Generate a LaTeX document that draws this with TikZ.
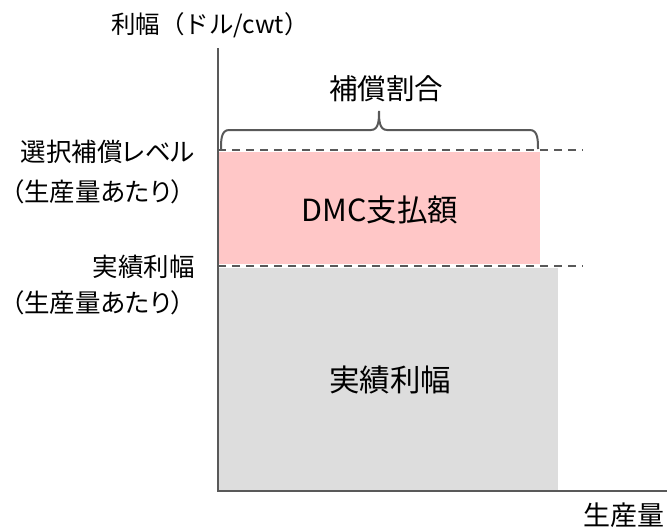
\documentclass[tikz,border=0pt]{standalone}
\usepackage{fontspec}
\setmainfont{Noto Sans CJK JP}[RawFeature=+palt]
\newfontfamily\widefont{Noto Sans CJK JP}
\definecolor{payfill}{HTML}{FFC7C7}
\definecolor{margfill}{HTML}{DDDDDD}
\definecolor{axisgray}{HTML}{595959}
\tikzset{
  axisline/.style={draw=axisgray,line width=2pt},
  levelline/.style={draw=axisgray,line width=2pt,dash pattern=on 8pt off 6pt},
  bracket/.style={draw=axisgray,line width=2pt},
  sidelabel/.style={anchor=east,inner sep=0pt,font=\fontsize{25.5}{30}\selectfont},
  biglabel/.style={inner sep=0pt,font=\fontsize{30.5}{34}\selectfont},
}
\begin{document}
\begin{tikzpicture}[x=1pt,y=-1pt]
            \useasboundingbox (0,0) rectangle (667,530);
            \fill[payfill](218,152) rectangle (540,264);
            \fill[margfill](218,268) rectangle (558,490);
            \draw[levelline](218,150)--(583,150);
            \draw[levelline](218,266)--(583,266);
            \draw[axisline](218,48)--(218,491)--(667,491);
            \draw[bracket](221,149) to[out=90,in=180](229,130)--(371,130)
                to[out=0,in=-90](379,111) to[out=-90,in=180](387,130)--(530,130)
                to[out=0,in=90](538,149);
            \node[inner sep=0pt,font=\widefont\fontsize{24.5}{29}\selectfont] (title) at (210,25){利幅（ドル/cwt）};
            \node[inner sep=0pt,font=\fontsize{28.5}{32}\selectfont] (ratio) at (386,89){補償割合};
            \node[sidelabel] (levelA) at (195,152){選択補償レベル};
            \node[sidelabel] (levelB) at (184,192){（生産量あたり）};
            \node[sidelabel] (actualA) at (195,267){実績利幅};
            \node[sidelabel] (actualB) at (184,303){（生産量あたり）};
            \node[biglabel] (pay) at (380,210){DMC支払額};
            \node[biglabel] (actual) at (390,380){実績利幅};
            \node[inner sep=0pt,font=\fontsize{27}{31}\selectfont] (volume) at (624,515){生産量};
\end{tikzpicture}
\end{document}
